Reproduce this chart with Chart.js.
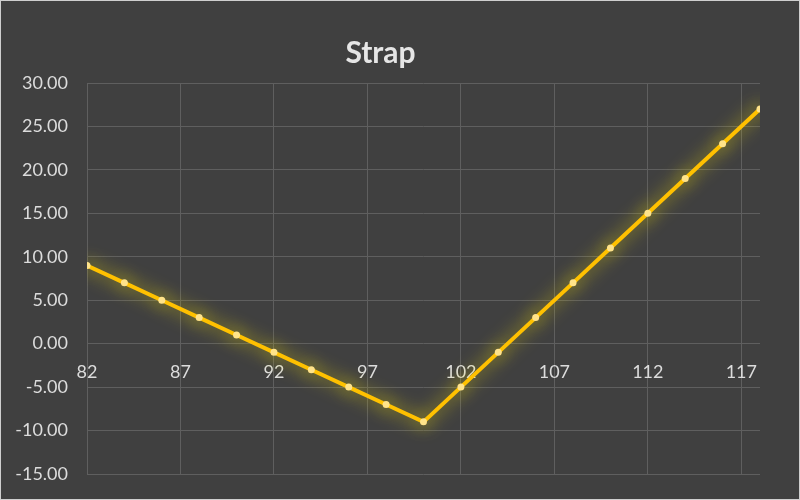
<!DOCTYPE html>
<html><head><meta charset="utf-8">
<script src="https://cdn.jsdelivr.net/npm/chart.js@4"></script>
<style>
html,body{margin:0;padding:0;background:#404040;}
#wrap{position:absolute;left:0;top:0;width:800px;height:500px;box-sizing:border-box;border:1px solid #cfcfcf;background:#404040;}
canvas{display:block;}
</style></head>
<body>
<div id="wrap"><canvas id="c" width="798" height="498"></canvas></div>
<script>
const titleText = "Strap";
const strikes = [82,84,86,88,90,92,94,96,98,100,102,104,106,108,110,112,114,116,118];
const payoff  = [9,7,5,3,1,-1,-3,-5,-7,-9,-5,-1,3,7,11,15,19,23,27];
const xTicks = [82,87,92,97,102,107,112,117];
const yTicks = [-15,-10,-5,0,5,10,15,20,25,30];

const glow = {
  id:'glow',
  beforeDatasetDraw(chart){
    const ctx = chart.ctx; ctx.save();
    ctx.shadowColor = 'rgba(255,235,0,0.8)';
    ctx.shadowBlur = 18;
  },
  afterDatasetDraw(chart){ chart.ctx.restore(); }
};

new Chart(document.getElementById('c'), {
  type:'line',
  data:{ datasets:[{
    data: strikes.map((x,i)=>({x:x,y:payoff[i]})),
    borderColor:'#FFC000', borderWidth:4,
    pointRadius:3.5, pointBackgroundColor:'#FFE38A', pointBorderWidth:0,
    tension:0
  }]},
  plugins:[glow],
  options:{
    responsive:false, animation:false,
    layout:{padding:{left:0,right:39,top:0,bottom:25}},
    plugins:{
      legend:{display:false}, tooltip:{enabled:false},
      title:{display:true,text:titleText,color:'#e6e6e6',
        font:{family:'Lato',size:30,weight:'bold'},padding:{top:34,bottom:12}}
    },
    scales:{
      x:{type:'linear',min:82,max:118,position:{y:0},
        afterBuildTicks(s){ s.ticks = xTicks.map(v=>({value:v})); },
        afterFit(s){ s.height = 0; },
        grid:{color:'#5f5f5f',lineWidth:1,drawTicks:false},
        border:{display:false},
        ticks:{color:'#dcdcdc',font:{family:'Lato',size:18},padding:18,maxRotation:0,autoSkip:false}
      },
      y:{min:-15,max:30,
        afterBuildTicks(s){ s.ticks = yTicks.map(v=>({value:v})); },
        afterFit(s){ s.width = 86; s.paddingBottom = 0; s.paddingTop = 0; },
        grid:{color:'#5f5f5f',lineWidth:1,drawTicks:false},
        border:{display:false},
        ticks:{color:'#dcdcdc',font:{family:'Lato',size:18},padding:19,
          callback:v=>Number(v).toFixed(2)}
      }
    }
  }
});
</script>
</body></html>
